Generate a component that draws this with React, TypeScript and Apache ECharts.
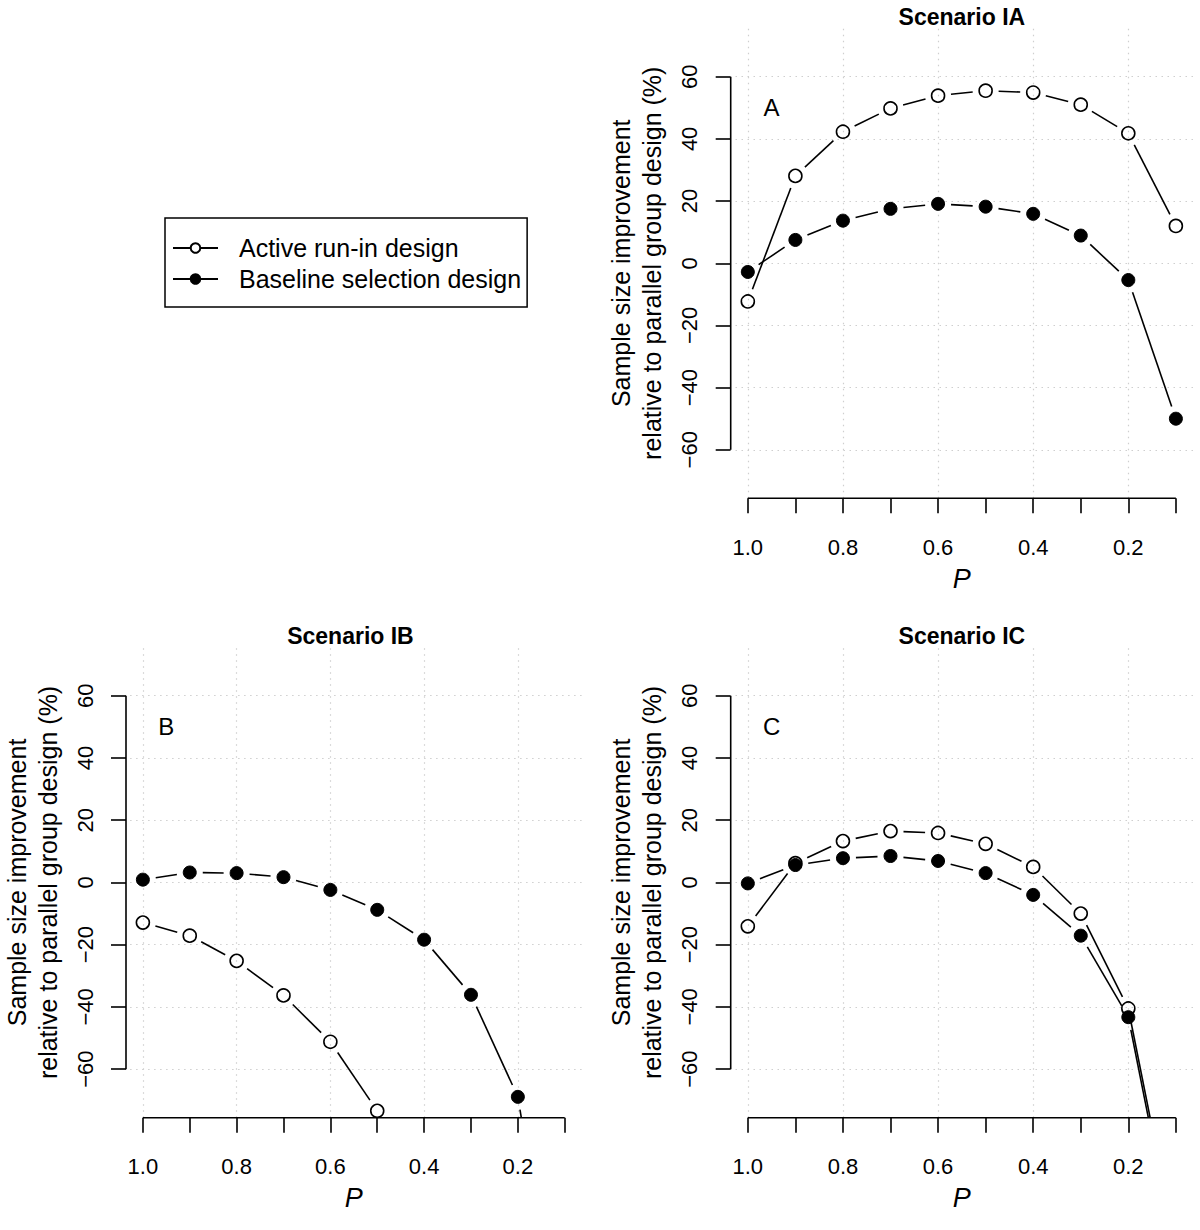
import React, { useEffect, useRef } from "react";
import * as echarts from "echarts";

// ---------- data ----------
const P_VALUES = [1.0, 0.9, 0.8, 0.7, 0.6, 0.5, 0.4, 0.3, 0.2, 0.1];
const X_TICKS = [1.0, 0.9, 0.8, 0.7, 0.6, 0.5, 0.4, 0.3, 0.2, 0.1];
const X_LABELS = [1.0, 0.8, 0.6, 0.4, 0.2];
const X_GRID = [1.0, 0.8, 0.6, 0.4, 0.2];
const Y_TICKS = [-60, -40, -20, 0, 20, 40, 60];
const X_RANGE = [0.064, 1.036];
const Y_RANGE = [-75.6, 75.6];

const IA_ACTIVE = [-12.3, 28.1, 42.3, 49.8, 53.9, 55.5, 54.9, 51.0, 41.8, 12.0];
const IA_BASELINE = [-2.8, 7.5, 13.7, 17.5, 19.1, 18.2, 15.9, 8.9, -5.4, -50.0];
const IB_ACTIVE = [-12.9, -17.1, -25.2, -36.3, -51.2, -73.4, -105, -150, -215, -320];
const IB_BASELINE = [0.9, 3.2, 3.0, 1.7, -2.4, -8.8, -18.4, -36.1, -68.9, -160];
const IC_ACTIVE = [-14.1, 6.2, 13.3, 16.5, 15.9, 12.4, 5.0, -10.0, -40.5, -117];
const IC_BASELINE = [-0.3, 5.6, 7.8, 8.5, 6.9, 3.0, -4.0, -17.1, -43.3, -120];

const TITLES = ["Scenario IA", "Scenario IB", "Scenario IC"];
const LETTERS = ["A", "B", "C"];
const LETTER_POS = [0.95, 50];
const SERIES_NAMES = ["Active run-in design", "Baseline selection design"];
const Y_NAME = "Sample size improvement\nrelative to parallel group design (%)";

const PANEL_DATA = [
  { active: IA_ACTIVE, baseline: IA_BASELINE },
  { active: IB_ACTIVE, baseline: IB_BASELINE },
  { active: IC_ACTIVE, baseline: IC_BASELINE },
];

// ---------- layout ----------
const GRIDS = [
  { left: 730.7, top: 28.2, width: 462.3, height: 470.1 },
  { left: 119.3, top: 647.2, width: 462.3, height: 470.5 },
  { left: 730.7, top: 647.2, width: 462.3, height: 470.5 },
];
const FONT = "'Liberation Sans', Arial, Helvetica, sans-serif";
const GAP = 13;
const LW = 1.6;

function segments(ys: number[]) {
  const out: number[][] = [];
  for (let i = 0; i < P_VALUES.length - 1; i++) {
    out.push([P_VALUES[i], ys[i], P_VALUES[i + 1], ys[i + 1]]);
  }
  return out;
}

function gapLineSeries(ys: number[], idx: number, name: string) {
  return {
    type: "custom",
    name,
    xAxisIndex: idx,
    yAxisIndex: idx,
    clip: true,
    silent: true,
    z: 3,
    encode: { x: [0, 2], y: [1, 3] },
    data: segments(ys),
    renderItem: (params: any, api: any) => {
      const a = api.coord([api.value(0), api.value(1)]);
      const b = api.coord([api.value(2), api.value(3)]);
      const dx = b[0] - a[0];
      const dy = b[1] - a[1];
      const len = Math.hypot(dx, dy);
      if (len <= 2 * GAP) return null;
      const ux = dx / len;
      const uy = dy / len;
      return {
        type: "line",
        shape: {
          x1: a[0] + ux * GAP,
          y1: a[1] + uy * GAP,
          x2: b[0] - ux * GAP,
          y2: b[1] - uy * GAP,
        },
        style: { stroke: "#000", lineWidth: LW },
      };
    },
  };
}

function buildOption() {
  const grid: any[] = [];
  const xAxis: any[] = [];
  const yAxis: any[] = [];
  const title: any[] = [];
  const series: any[] = [];

  GRIDS.forEach((g, i) => {
    grid.push({ ...g, containLabel: false });
    title.push({
      text: TITLES[i],
      left: g.left + g.width / 2,
      top: g.top - 23,
      textAlign: "center",
      padding: 0,
      textStyle: { fontSize: 23, fontWeight: "bold", color: "#000", fontFamily: FONT },
    });
    xAxis.push({
      type: "value",
      gridIndex: i,
      inverse: true,
      min: X_RANGE[0],
      max: X_RANGE[1],
      name: "P",
      nameLocation: "middle",
      nameGap: 67,
      nameTextStyle: { fontSize: 27, fontStyle: "italic", color: "#000", fontFamily: FONT },
      axisLine: { show: false, onZero: false },
      axisTick: {
        show: true,
        length: 15,
        customValues: X_TICKS,
        lineStyle: { color: "#000", width: LW },
      },
      axisLabel: {
        show: true,
        customValues: X_LABELS,
        formatter: (v: number) => v.toFixed(1),
        fontSize: 22,
        color: "#000",
        fontFamily: FONT,
        margin: 38,
      },
      splitLine: { show: false },
    });
    yAxis.push({
      type: "value",
      gridIndex: i,
      min: Y_RANGE[0],
      max: Y_RANGE[1],
      name: Y_NAME,
      nameLocation: "middle",
      nameRotate: 90,
      nameGap: 63,
      nameTextStyle: { fontSize: 25, lineHeight: 31, color: "#000", fontFamily: FONT },
      axisLine: { show: false, onZero: false },
      axisTick: {
        show: true,
        length: 15,
        customValues: Y_TICKS,
        lineStyle: { color: "#000", width: LW },
      },
      axisLabel: {
        show: true,
        customValues: Y_TICKS,
        rotate: 90,
        formatter: (v: number) => String(Math.round(v)).replace("-", "\u2212"),
        fontSize: 22,
        color: "#000",
        fontFamily: FONT,
        margin: 30,
      },
      splitLine: { show: false },
    });

    const pd = PANEL_DATA[i];

    // gridlines
    series.push({
      type: "scatter",
      name: "grid" + i,
      xAxisIndex: i,
      yAxisIndex: i,
      data: [],
      silent: true,
      markLine: {
        silent: true,
        z: 1,
        symbol: ["none", "none"],
        label: { show: false },
        lineStyle: { color: "#cfcfcf", width: 1.2, type: [1.5, 4.5], opacity: 1 },
        emphasis: { disabled: true },
        data: [
          ...X_GRID.map((v) => ({ xAxis: v })),
          ...Y_TICKS.map((v) => ({ yAxis: v })),
        ],
      },
    });

    // axis lines (span first to last tick, R style)
    series.push({
      type: "line",
      name: "xaxisline" + i,
      xAxisIndex: i,
      yAxisIndex: i,
      data: [
        [X_TICKS[0], Y_RANGE[0]],
        [X_TICKS[X_TICKS.length - 1], Y_RANGE[0]],
      ],
      showSymbol: false,
      symbol: "none",
      clip: false,
      silent: true,
      z: 5,
      lineStyle: { color: "#000", width: LW, opacity: 1 },
    });
    series.push({
      type: "line",
      name: "yaxisline" + i,
      xAxisIndex: i,
      yAxisIndex: i,
      data: [
        [X_RANGE[1], Y_TICKS[0]],
        [X_RANGE[1], Y_TICKS[Y_TICKS.length - 1]],
      ],
      showSymbol: false,
      symbol: "none",
      clip: false,
      silent: true,
      z: 5,
      lineStyle: { color: "#000", width: LW, opacity: 1 },
    });

    // connecting lines with gaps (type = "b")
    series.push(gapLineSeries(pd.active, i, "activeLine" + i));
    series.push(gapLineSeries(pd.baseline, i, "baselineLine" + i));

    // points
    series.push({
      type: "scatter",
      name: "activePts" + i,
      xAxisIndex: i,
      yAxisIndex: i,
      data: P_VALUES.map((p, k) => [p, pd.active[k]]),
      symbol: "circle",
      symbolSize: 13,
      clip: true,
      silent: true,
      z: 4,
      itemStyle: {
        color: "rgba(255,255,255,0)",
        borderColor: "#000",
        borderWidth: LW,
        opacity: 1,
      },
    });
    series.push({
      type: "scatter",
      name: "baselinePts" + i,
      xAxisIndex: i,
      yAxisIndex: i,
      data: P_VALUES.map((p, k) => [p, pd.baseline[k]]),
      symbol: "circle",
      symbolSize: 13,
      clip: true,
      silent: true,
      z: 4,
      itemStyle: { color: "#000", borderColor: "#000", borderWidth: 1, opacity: 1 },
    });

    // panel letter
    series.push({
      type: "scatter",
      name: "letter" + i,
      xAxisIndex: i,
      yAxisIndex: i,
      data: [LETTER_POS],
      symbolSize: 1,
      silent: true,
      itemStyle: { color: "rgba(0,0,0,0)", opacity: 1 },
      label: {
        show: true,
        position: "inside",
        formatter: LETTERS[i],
        fontSize: 24,
        color: "#000",
        opacity: 1,
        fontFamily: FONT,
      },
    });
  });

  // legend carrier series
  series.push({
    type: "line",
    name: SERIES_NAMES[0],
    xAxisIndex: 0,
    yAxisIndex: 0,
    data: [],
    symbol: "circle",
    symbolSize: 12,
    itemStyle: { color: "#fff", borderColor: "#000", borderWidth: LW, opacity: 1 },
    lineStyle: { color: "#000", width: LW },
  });
  series.push({
    type: "line",
    name: SERIES_NAMES[1],
    xAxisIndex: 0,
    yAxisIndex: 0,
    data: [],
    symbol: "circle",
    symbolSize: 12,
    itemStyle: { color: "#000", borderColor: "#000", borderWidth: 1, opacity: 1 },
    lineStyle: { color: "#000", width: LW },
  });

  return {
    animation: false,
    backgroundColor: "#fff",
    textStyle: { fontFamily: FONT },
    title,
    grid,
    xAxis,
    yAxis,
    legend: {
      data: SERIES_NAMES,
      left: 165,
      top: 218,
      orient: "vertical",
      selectedMode: false,
      itemWidth: 45,
      itemHeight: 12,
      itemGap: 3,
      padding: [16, 6, 14, 7],
      borderColor: "#000",
      borderWidth: 1.5,
      borderRadius: 0,
      textStyle: {
        fontSize: 25,
        lineHeight: 28,
        color: "#000",
        fontFamily: FONT,
        padding: [0, 0, 0, 16],
      },
    },
    series,
  };
}

export default function App() {
  const ref = useRef<HTMLDivElement>(null);
  useEffect(() => {
    if (!ref.current) return;
    const chart = echarts.init(ref.current, undefined, { renderer: "svg" });
    chart.setOption(buildOption() as any);
    return () => chart.dispose();
  }, []);
  return (
    <div
      ref={ref}
      style={{ position: "absolute", left: 0, top: 0, width: 1200, height: 1230, background: "#fff" }}
    />
  );
}
